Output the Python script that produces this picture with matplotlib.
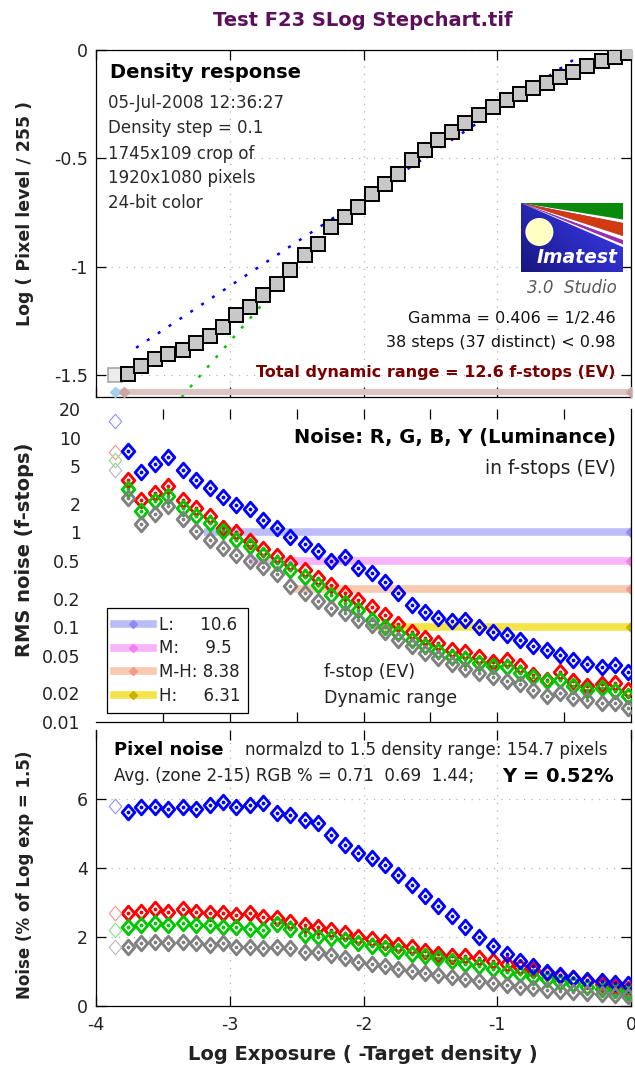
import numpy as np
import matplotlib
matplotlib.use('Agg')
import matplotlib.pyplot as plt
from matplotlib.lines import Line2D
from matplotlib.patches import Polygon, Ellipse
from matplotlib.path import Path
from matplotlib.ticker import FixedLocator, NullFormatter
from matplotlib.colors import LinearSegmentedColormap

plt.rcParams['font.family'] = ['DejaVu Sans']
plt.rcParams['axes.unicode_minus'] = False

# ---------------- data ----------------
log_exposure = [-3.86, -3.76, -3.66, -3.56, -3.46, -3.35, -3.25, -3.15, -3.05, -2.95,
                -2.85, -2.75, -2.65, -2.55, -2.44, -2.34, -2.24, -2.14, -2.04, -1.94,
                -1.84, -1.74, -1.64, -1.54, -1.44, -1.34, -1.24, -1.14, -1.03, -0.93,
                -0.83, -0.73, -0.63, -0.53, -0.43, -0.33, -0.22, -0.12, -0.02]

log_pixel = [-1.497, -1.494, -1.457, -1.423, -1.401, -1.383, -1.350, -1.319, -1.278, -1.224,
             -1.185, -1.131, -1.080, -1.014, -0.946, -0.895, -0.818, -0.772, -0.722, -0.664,
             -0.620, -0.571, -0.509, -0.463, -0.417, -0.378, -0.336, -0.301, -0.265, -0.231,
             -0.204, -0.177, -0.150, -0.123, -0.100, -0.074, -0.049, -0.031, -0.012]

gamma_fit_x = [-3.70, -0.38]
gamma_fit_y = [-1.373, -0.025]
green_fit_x = [-3.36, -2.70]
green_fit_y = [-1.60, -1.132]

total_dr_fstops = 12.6
dr_bar_level = -1.578

noise_R = [7.0, 3.6, 2.2, 2.6, 3.1, 2.2, 1.8, 1.5, 1.12, 1.0, 0.81, 0.66, 0.56, 0.47, 0.40,
           0.33, 0.28, 0.23, 0.195, 0.165, 0.136, 0.107, 0.09, 0.077, 0.068, 0.058, 0.055,
           0.049, 0.043, 0.045, 0.039, 0.031, 0.028, 0.034, 0.027, 0.024, 0.025, 0.026, 0.022]
noise_G = [5.8, 2.85, 1.68, 2.14, 2.42, 1.82, 1.49, 1.27, 1.03, 0.84, 0.72, 0.58, 0.48, 0.40,
           0.34, 0.28, 0.22, 0.18, 0.15, 0.12, 0.10, 0.087, 0.074, 0.063, 0.056, 0.049, 0.046,
           0.042, 0.039, 0.038, 0.033, 0.030, 0.027, 0.028, 0.024, 0.022, 0.023, 0.021, 0.0186]
noise_B = [15.0, 7.2, 4.3, 5.2, 6.3, 4.5, 3.6, 2.95, 2.35, 1.95, 1.75, 1.35, 1.12, 0.90, 0.75,
           0.64, 0.50, 0.55, 0.42, 0.37, 0.30, 0.23, 0.17, 0.145, 0.125, 0.115, 0.118, 0.10,
           0.09, 0.083, 0.073, 0.063, 0.057, 0.051, 0.045, 0.041, 0.038, 0.040, 0.034]
noise_Y = [4.5, 2.33, 1.22, 1.55, 1.9, 1.37, 1.03, 0.84, 0.69, 0.58, 0.50, 0.43, 0.36, 0.27,
           0.23, 0.19, 0.16, 0.14, 0.12, 0.105, 0.09, 0.074, 0.063, 0.054, 0.047, 0.041, 0.036,
           0.033, 0.030, 0.027, 0.025, 0.022, 0.019, 0.020, 0.018, 0.017, 0.016, 0.016, 0.014]

dr_labels = ['L:', 'M:', 'M-H:', 'H:']
dr_values = [10.6, 9.5, 8.38, 6.31]
dr_levels = [1.0, 0.5, 0.25, 0.1]

pix_R = [2.69, 2.69, 2.73, 2.80, 2.73, 2.80, 2.73, 2.69, 2.69, 2.64, 2.71, 2.59, 2.54, 2.44,
         2.35, 2.30, 2.20, 2.11, 2.01, 1.95, 1.85, 1.77, 1.70, 1.60, 1.52, 1.45, 1.45, 1.38,
         1.30, 1.22, 1.14, 1.05, 0.97, 0.88, 0.80, 0.72, 0.63, 0.55, 0.48]
pix_G = [2.2, 2.30, 2.35, 2.40, 2.35, 2.40, 2.35, 2.35, 2.30, 2.30, 2.22, 2.20, 2.38, 2.22,
         2.06, 2.01, 1.96, 1.91, 1.82, 1.75, 1.68, 1.60, 1.52, 1.45, 1.38, 1.30, 1.22, 1.15,
         1.07, 1.00, 0.92, 0.85, 0.77, 0.70, 0.63, 0.56, 0.50, 0.45, 0.41]
pix_B = [5.8, 5.63, 5.78, 5.78, 5.70, 5.78, 5.70, 5.83, 5.92, 5.78, 5.83, 5.88, 5.59, 5.54,
         5.39, 5.30, 4.96, 4.67, 4.43, 4.3, 4.1, 3.8, 3.5, 3.2, 2.9, 2.6, 2.3, 2.0, 1.75, 1.5,
         1.3, 1.15, 1.0, 0.9, 0.82, 0.76, 0.72, 0.68, 0.65]
pix_Y = [1.72, 1.72, 1.82, 1.86, 1.82, 1.86, 1.82, 1.77, 1.82, 1.72, 1.72, 1.67, 1.72, 1.67,
         1.57, 1.57, 1.48, 1.38, 1.28, 1.22, 1.15, 1.08, 1.02, 0.96, 0.90, 0.84, 0.78, 0.72,
         0.66, 0.61, 0.56, 0.51, 0.47, 0.43, 0.40, 0.37, 0.34, 0.32, 0.30]

# ---------------- styles ----------------
W, H = 635, 1068
TXT = '#222222'
series_colors = {'R': ('#ff0000', '#ff9090'), 'G': ('#00c800', '#80e080'),
                 'B': ('#0000ff', '#9090ff'), 'Y': ('#808080', '#b8b8b8')}
band_line = ['#bcbcf8', '#f8b4f8', '#f8cab0', '#f4e44a']
band_mark = ['#8c8cf0', '#f080f0', '#f09a88', '#c8b400']
DIAMOND = Path([(0, 1), (0.86, 0), (0, -1), (-0.86, 0), (0, 1)], closed=True)

fig = plt.figure(figsize=(W / 100, H / 100), dpi=100)
fig.patch.set_facecolor('white')


def fx(px):
    return px / W


def fy(py):
    return 1 - py / H


def axes_px(l, t, r, b):
    return fig.add_axes([fx(l), fy(b), (r - l) / W, (b - t) / H])


def ftext(x, y, s, **kw):
    kw.setdefault('va', 'center')
    kw.setdefault('color', TXT)
    return fig.text(fx(x), fy(y), s, **kw)


def plot_series(ax, x, y, key, msize=10.5):
    col, faded = series_colors[key]
    ax.plot(x[1:], y[1:], ls='none', marker=DIAMOND, ms=msize, mfc='none', mec=col,
            mew=2.1, zorder=4)
    ax.plot(x[1:], y[1:], ls='none', marker='.', ms=3.5, color=col, zorder=4)
    ax.plot(x[:1], y[:1], ls='none', marker=DIAMOND, ms=msize, mfc='none', mec=faded,
            mew=0.8, zorder=4)


# ================= top panel =================
ax1 = axes_px(96, 50, 631, 397)
ax1.set_xlim(-4, 0)
ax1.set_ylim(-1.6, 0)
ax1.set_xticks([-4, -3, -2, -1, 0])
ax1.set_xticklabels([])
ax1.set_yticks([-1.5, -1, -0.5, 0])
ax1.set_yticklabels(['-1.5', '-1', '-0.5', '0'])
ax1.tick_params(direction='in', top=True, right=True, length=7, width=0.9,
                labelsize=12.5, pad=6, labelcolor=TXT)
ax1.grid(True, ls=(0, (1, 5)), color='#b4b4b4', lw=0.9)
for s in ax1.spines.values():
    s.set_linewidth(0.9)

ax1.plot(green_fit_x, green_fit_y, ls=(0, (1.2, 4)), lw=1.8, color='#00c800', zorder=3)
ax1.plot(gamma_fit_x, gamma_fit_y, ls=(0, (1.2, 4)), lw=1.8, color='#0000ff', zorder=3)

dr_start = -total_dr_fstops * np.log10(2)
ax1.plot([log_exposure[0], dr_start], [dr_bar_level] * 2, color='#bcdcee', lw=4.5,
         solid_capstyle='butt', zorder=3)
ax1.plot([log_exposure[0]], [dr_bar_level], marker='D', ms=5, color='#a8d0ea', zorder=3)
ax1.plot([dr_start, 0], [dr_bar_level] * 2, color='#dcc4c4', lw=4.5,
         solid_capstyle='butt', zorder=3)
ax1.plot([dr_start, 0], [dr_bar_level] * 2, ls='none', marker='D', ms=5, color='#cfa4a4',
         zorder=3)

ax1.plot(log_exposure[:1], log_pixel[:1], 's', ms=10.5, mfc='#ececec', mec='#a8a8a8',
         mew=1.2, zorder=5)
ax1.plot(log_exposure[1:], log_pixel[1:], 's', ms=10.5, mfc='#c8c8c8', mec='black',
         mew=1.4, zorder=5)

ftext(110, 73, 'Density response', fontsize=14, fontweight='bold', color='black')
for yy, s in zip([103, 128, 154, 178, 203],
                 ['05-Jul-2008 12:36:27', 'Density step = 0.1', '1745x109 crop of',
                  '1920x1080 pixels', '24-bit color']):
    ftext(108, yy, s, fontsize=12, color='#2a2a2a')

ftext(617, 288, '3.0  Studio', fontsize=12, style='italic', ha='right', color='#5a5a5a')
ftext(616, 318, 'Gamma = 0.406 = 1/2.46', fontsize=11.5, ha='right', color='#111111')
ftext(616, 343, '38 steps (37 distinct) < 0.98', fontsize=11.5, ha='right', color='#111111')
ftext(616, 373, 'Total dynamic range = 12.6 f-stops (EV)', fontsize=11.5,
      fontweight='bold', ha='right', color='#7a0000')

# logo
axl = axes_px(521, 203, 623, 272)
axl.set_xlim(0, 1)
axl.set_ylim(0, 1)
axl.axis('off')
gx, gy = np.meshgrid(np.linspace(0, 1, 60), np.linspace(0, 1, 40))
cmap = LinearSegmentedColormap.from_list('lg', ['#16167e', '#2b2bc0', '#3c3ce6'])
axl.imshow(gx * 0.6 + (1 - gy) * 0.4, extent=(0, 1, 0, 1), origin='upper', cmap=cmap,
           aspect='auto', zorder=0)
apex = (0, 1)
for (ya, yb), c in zip([(1.0, 0.76), (0.76, 0.71), (0.71, 0.52), (0.52, 0.46),
                        (0.46, 0.40), (0.40, 0.36)],
                       ['#0a8a0a', 'white', '#d43a10', 'white', '#a02cb0', 'white']):
    axl.add_patch(Polygon([apex, (1, ya), (1, yb)], closed=True, fc=c, ec='none', zorder=1))
axl.add_patch(Ellipse((0.18, 0.58), 0.275, 0.406, fc='#ffffc4', ec='none', zorder=2))
axl.text(0.55, 0.21, 'Imatest', color='white', fontsize=13.5, fontweight='bold',
         style='italic', ha='center', va='center', zorder=3)

# ================= middle panel =================
ax2 = axes_px(96, 409, 631, 722)
ax2.set_yscale('log')
ax2.set_xlim(-4, 0)
ax2.set_ylim(0.01, 20)
yl = [20, 10, 5, 2, 1, 0.5, 0.2, 0.1, 0.05, 0.02, 0.01]
ax2.yaxis.set_major_locator(FixedLocator(yl))
ax2.set_yticklabels([str(v) for v in yl])
ax2.yaxis.set_minor_locator(FixedLocator([0.1, 1, 10]))
ax2.yaxis.set_minor_formatter(NullFormatter())
ax2.tick_params(axis='y', which='major', length=0, labelsize=12.5, pad=11, labelcolor=TXT)
ax2.tick_params(axis='y', which='minor', length=8, width=0.9, direction='in',
                left=True, right=True)
ax2.set_xticks([-3.5, -3, -2.5, -2, -1.5, -1, -0.5])
ax2.tick_params(axis='x', direction='in', top=True, bottom=True, length=7, width=0.9,
                labelbottom=False)
ax2.spines['left'].set_visible(False)
ax2.spines['top'].set_visible(False)
for s in ax2.spines.values():
    s.set_linewidth(0.9)

handles = []
for lab, dr, lvl, lc, mc in zip(dr_labels, dr_values, dr_levels, band_line, band_mark):
    xs = -dr * np.log10(2)
    ax2.plot([xs, 0], [lvl, lvl], color=lc, lw=5.5, solid_capstyle='butt', zorder=2)
    ax2.plot([0], [lvl], ls='none', marker='D', ms=5, color=mc, zorder=2.5)
    handles.append(Line2D([], [], color=lc, lw=5.5, marker='D', ms=4.5, mfc=mc, mec=mc))

legend_labels = ['L:     10.6', 'M:     9.5', 'M-H: 8.38', 'H:     6.31']
leg = ax2.legend(handles, legend_labels, loc='lower left', bbox_to_anchor=(0.02, 0.03),
                 fontsize=12, frameon=True, fancybox=False, framealpha=1, edgecolor='black',
                 handlelength=2.3, handletextpad=0.4, labelspacing=0.35, borderpad=0.45,
                 borderaxespad=0)
leg.get_frame().set_linewidth(0.9)
for t in leg.get_texts():
    t.set_color(TXT)

plot_series(ax2, log_exposure, noise_R, 'R')
plot_series(ax2, log_exposure, noise_G, 'G')
plot_series(ax2, log_exposure, noise_B, 'B')
plot_series(ax2, log_exposure, noise_Y, 'Y')

ftext(616, 438, 'Noise: R, G, B, Y (Luminance)', fontsize=14, fontweight='bold', ha='right',
      color='black')
ftext(616, 468, 'in f-stops (EV)', fontsize=13.5, ha='right')
ftext(324, 672, 'f-stop (EV)', fontsize=12.5)
ftext(324, 698, 'Dynamic range', fontsize=12.5)

# ================= bottom panel =================
ax3 = axes_px(96, 730, 631, 1006)
ax3.set_xlim(-4, 0)
ax3.set_ylim(0, 8)
ax3.set_xticks([-4, -3, -2, -1, 0])
ax3.set_xticklabels(['-4', '-3', '-2', '-1', '0'])
ax3.set_yticks([0, 2, 4, 6])
ax3.set_yticklabels(['0', '2', '4', '6'])
ax3.tick_params(direction='in', top=True, right=True, length=7, width=0.9,
                labelsize=12.5, pad=6, labelcolor=TXT)
ax3.tick_params(axis='x', pad=7)
ax3.grid(True, ls=(0, (1, 5)), color='#b4b4b4', lw=0.9)
ax3.spines['top'].set_visible(False)
for s in ax3.spines.values():
    s.set_linewidth(0.9)

plot_series(ax3, log_exposure, pix_R, 'R')
plot_series(ax3, log_exposure, pix_G, 'G')
plot_series(ax3, log_exposure, pix_B, 'B')
plot_series(ax3, log_exposure, pix_Y, 'Y')

ftext(114, 750, 'Pixel noise', fontsize=13, fontweight='bold', color='black')
ftext(245, 750, 'normalzd to 1.5 density range: 154.7 pixels', fontsize=12)
ftext(114, 776, 'Avg. (zone 2-15) RGB % = 0.71  0.69  1.44;', fontsize=12)
ftext(614, 776, 'Y = 0.52%', fontsize=14, fontweight='bold', ha='right', color='black')

# ================= labels =================
ftext(363, 20, 'Test F23 SLog Stepchart.tif', fontsize=14, fontweight='bold', ha='center',
      color='#5c0f5a')
ftext(25, 213, 'Log ( Pixel level / 255 )', fontsize=12.5, fontweight='bold', rotation=90,
      ha='center', color='#222222')
ftext(25, 550, 'RMS noise (f-stops)', fontsize=14, fontweight='bold', rotation=90,
      ha='center', color='#222222')
ftext(25, 875, 'Noise (% of Log exp = 1.5)', fontsize=12, fontweight='bold', rotation=90,
      ha='center', color='#222222')
ftext(363, 1054, 'Log Exposure ( -Target density )', fontsize=14, fontweight='bold',
      ha='center', color='#222222')

fig.savefig('out.png', dpi=100, facecolor='white')
